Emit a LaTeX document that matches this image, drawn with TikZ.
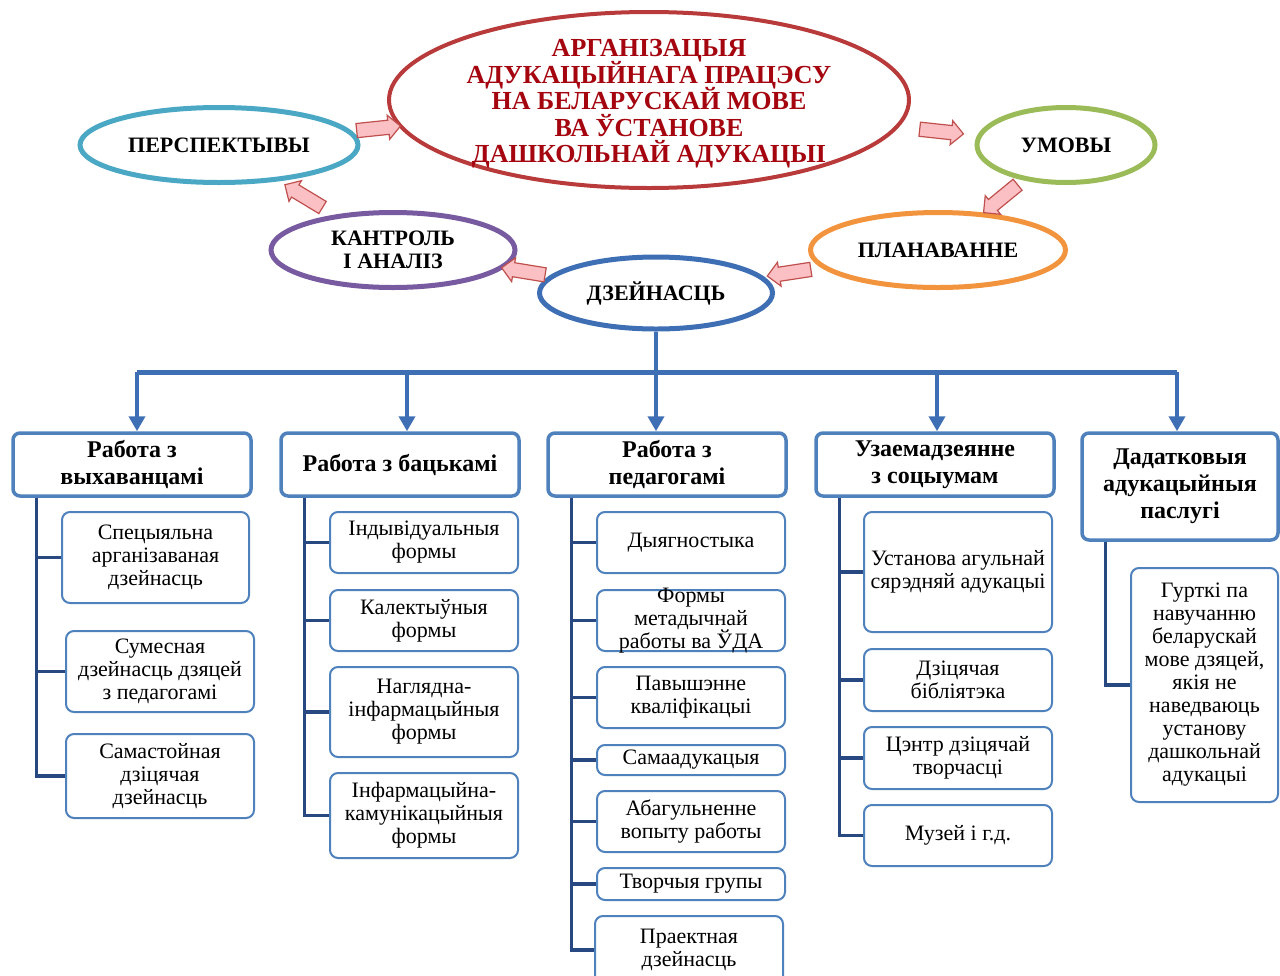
\documentclass[tikz,border=0pt]{standalone}
\usepackage{fontspec}
\setmainfont{Liberation Serif}
\usetikzlibrary{shapes.geometric, shapes.arrows, arrows.meta, positioning}

\definecolor{mainred}{RGB}{184,58,58}
\definecolor{titlered}{RGB}{165,5,15}
\definecolor{tealc}{RGB}{75,168,196}
\definecolor{greenc}{RGB}{155,187,89}
\definecolor{purplec}{RGB}{120,90,160}
\definecolor{orangec}{RGB}{242,148,62}
\definecolor{bluec}{RGB}{62,110,180}
\definecolor{boxblue}{RGB}{79,129,189}
\definecolor{spineblue}{RGB}{40,72,130}
\definecolor{arrowpink}{RGB}{250,192,196}
\definecolor{arrowred}{RGB}{192,80,77}

\newcommand\titlefont{\fontsize{26}{26.5}\selectfont\bfseries\lineskiplimit=-30pt\relax}

\tikzset{
    oval/.style={ellipse, line width=5, fill=white, inner sep=0, align=center, font=\fontsize{22}{23}\selectfont\bfseries}, % the ring of steps
    flow/.style={single arrow, draw=arrowred, fill=arrowpink, line width=1.2, minimum height=44, minimum width=24, single arrow head extend=5, inner xsep=0, inner ysep=6.5, sloped, allow upside down}, % fat pink arrows
    head/.style={draw=boxblue, line width=3.5, rounded corners=7, fill=white, minimum width=238, minimum height=63, align=center, font=\fontsize{24}{27}\selectfont\bfseries},
    sub/.style={draw=boxblue, line width=2, rounded corners=8, fill=white, minimum width=188, align=center, inner sep=0, font=\fontsize{22}{23}\selectfont},
    subtxt/.style={align=center, inner sep=0, font=\fontsize{22}{23}\selectfont},
    bus/.style={draw=bluec, line width=5},
    drop/.style={draw=bluec, line width=4, -{Triangle[width=16,length=15]}},
    spine/.style={draw=spineblue, line width=3.5}
}

\begin{document}
\begin{tikzpicture}[x=1pt, y=-1pt]
    \useasboundingbox (0,0) rectangle (1280,975);

    % Kola
    \node[ellipse, draw=mainred, line width=4, fill=white, minimum width=520, minimum height=176, inner sep=0,
        label={[align=center, inner sep=0, yshift=-4, text=titlered, font=\titlefont]center:АРГАНІЗАЦЫЯ\\АДУКАЦЫЙНАГА ПРАЦЭСУ\\НА БЕЛАРУСКАЙ МОВЕ\\ВА ЎСТАНОВЕ\\ДАШКОЛЬНАЙ АДУКАЦЫІ}] (main) at (649,100) {};
    \node[oval, draw=tealc, minimum width=278, minimum height=75] (persp) at (219,145) {ПЕРСПЕКТЫВЫ};
    \node[oval, draw=greenc, minimum width=178, minimum height=75] (umovy) at (1066,145) {УМОВЫ};
    \node[oval, draw=purplec, minimum width=244, minimum height=75] (kant) at (393,250) {КАНТРОЛЬ\\І АНАЛІЗ};
    \node[oval, draw=orangec, minimum width=255, minimum height=75] (plan) at (938,250) {ПЛАНАВАННЕ};
    \node[oval, draw=bluec, minimum width=233, minimum height=72] (dz) at (656,293) {ДЗЕЙНАСЦЬ};

    % Strelki
    \path (persp) -- node[flow] {} (main);
    \path (main) -- node[flow] {} (umovy);
    \path (umovy) -- node[flow] {} (plan);
    \path (plan) -- node[flow] {} (dz);
    \path (dz) -- node[flow] {} (kant);
    \path (kant) -- node[flow] {} (persp);

    % Kirunki
    \node[head] (h1) at (132,464.5) {Работа з\\выхаванцамі};
    \node[head] (h2) at (400,464.5) {Работа з бацькамі};
    \node[head] (h3) at (667,464.5) {Работа з\\педагогамі};
    \node[head] (h4) at (935,464.5) {Узаемадзеянне\\з соцыумам};
    \node[head, minimum width=196, minimum height=107] (h5) at (1180,486.5) {Дадатковыя\\адукацыйныя\\паслугі};

    \coordinate (b1) at (137,372);
    \coordinate (b2) at (407,372);
    \coordinate (b4) at (937,372);
    \coordinate (b5) at (1177,372);
    \draw[bus] (b1) -- (b5);
    \draw[drop] (b1) -- (b1 |- h1.north);
    \draw[drop] (b2) -- (b2 |- h2.north);
    \draw[drop] (dz.south) -- (dz.south |- h3.north);
    \draw[drop] (b4) -- (b4 |- h4.north);
    \draw[drop] (b5) -- (b5 |- h5.north);

    % Slupok 1
    \node[sub, minimum width=187, minimum height=91] (c11) at (155.5,557.5) {Спецыяльна\\арганізаваная\\дзейнасць};
    \node[sub, minimum height=81] (c12) at (160,671.5) {Сумесная\\дзейнасць дзяцей\\з педагогамі};
    \node[sub, minimum height=84] (c13) at (160,776) {Самастойная\\дзіцячая\\дзейнасць};

    % Slupok 2
    \node[sub, minimum height=61] (c21) at (424,542.5) {Індывідуальныя\\формы};
    \node[sub, minimum height=61] (c22) at (424,620.5) {Калектыўныя\\формы};
    \node[sub, minimum height=90] (c23) at (424,712) {Наглядна-\\інфармацыйныя\\формы};
    \node[sub, minimum height=85] (c24) at (424,815.5) {Інфармацыйна-\\камунікацыйныя\\формы};

    % Slupok 3
    \node[sub, minimum height=61] (c31) at (691,542.5) {Дыягностыка};
    \node[sub, minimum height=61, label={[subtxt]center:Формы\\метадычнай\\работы ва ЎДА}] (c32) at (691,620.5) {};
    \node[sub, minimum height=61] (c33) at (691,697.5) {Павышэнне\\кваліфікацыі};
    \node[sub, minimum height=30] (c34) at (691,760) {Самаадукацыя};
    \node[sub, minimum height=61] (c35) at (691,821.5) {Абагульненне\\вопыту работы};
    \node[sub, minimum height=32] (c36) at (691,884) {Творчыя групы};
    \node[sub, minimum height=68] (c37) at (689,950) {Праектная\\дзейнасць};

    % Slupok 4
    \node[sub, minimum height=120] (c41) at (958,572) {Установа агульнай\\сярэдняй адукацыі};
    \node[sub, minimum height=62] (c42) at (958,680) {Дзіцячая\\бібліятэка};
    \node[sub, minimum height=62] (c43) at (958,758) {Цэнтр дзіцячай\\творчасці};
    \node[sub, minimum height=61] (c44) at (958,835.5) {Музей і г.д.};

    % Slupok 5
    \node[sub, minimum width=147, minimum height=234] (c51) at (1204.5,685) {Гурткі па\\навучанню\\беларускай\\мове дзяцей,\\якія не\\наведваюць\\установу\\дашкольнай\\адукацыі};

    % Lini
    \foreach \h/\boxes in {h1/{c11,c12,c13}, h2/{c21,c22,c23,c24}, h3/{c31,c32,c33,c34,c35,c36,c37}, h4/{c41,c42,c43,c44}, h5/{c51}}
        \foreach \b in \boxes
            \draw[spine] ([xshift=25]\h.south west) |- (\b.west);
\end{tikzpicture}
\end{document}
